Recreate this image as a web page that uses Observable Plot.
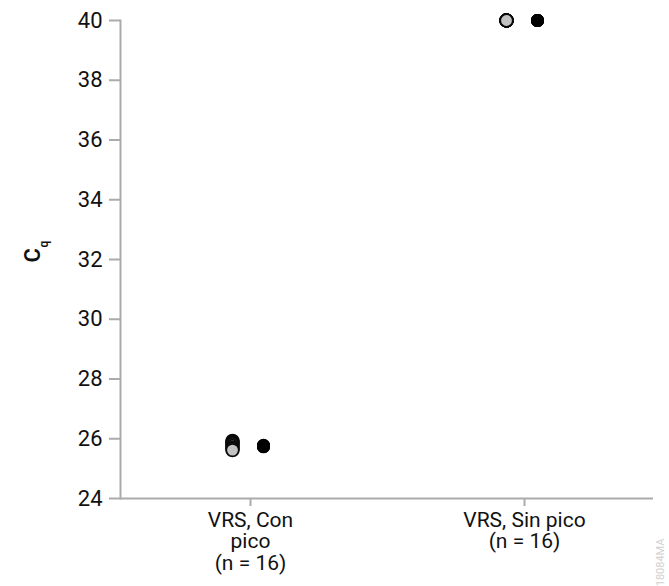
<!DOCTYPE html>
<html>
<head>
<meta charset="utf-8">
<script src="https://cdn.jsdelivr.net/npm/d3@7"></script>
<script src="https://cdn.jsdelivr.net/npm/@observablehq/plot@0.6"></script>
<style>
  html, body { margin: 0; padding: 0; background: #fff; }
  #chart svg { font-family: Roboto, "Noto Sans", sans-serif; }
</style>
</head>
<body>
<div id="chart"></div>
<script>
// Sample groups (x axis)
const categories = ["VRS, Con\npico\n(n = 16)", "VRS, Sin pico\n(n = 16)"];

// Cq values per replicate, grey series and black series
const conPicoGris  = [25.93, 25.9, 25.86, 25.82, 25.76, 25.7, 25.66, 25.62];
const conPicoNegro = [25.78, 25.77, 25.76, 25.75, 25.75, 25.74, 25.74, 25.73];
const sinPicoGris  = [40, 40, 40, 40, 40, 40, 40, 40];
const sinPicoNegro = [40, 40, 40, 40, 40, 40, 40, 40];

const yTicks = [24, 26, 28, 30, 32, 34, 36, 38, 40];

const gris = [
  ...conPicoGris.map(cq => ({grupo: categories[0], cq})),
  ...sinPicoGris.map(cq => ({grupo: categories[1], cq}))
].sort((a, b) => b.cq - a.cq);
const negro = [
  ...conPicoNegro.map(cq => ({grupo: categories[0], cq})),
  ...sinPicoNegro.map(cq => ({grupo: categories[1], cq}))
];

const axisGrey = "#ababab";

const plot = Plot.plot({
  width: 669,
  height: 586,
  marginLeft: 120,
  marginRight: 16,
  marginTop: 20,
  marginBottom: 88,
  style: {fontSize: "21px", fontFamily: "Roboto, sans-serif", color: "#111"},
  x: {type: "point", domain: categories, padding: 0.47},
  y: {domain: [24, 40]},
  marks: [
    Plot.frame({anchor: "left", stroke: axisGrey, strokeWidth: 2}),
    Plot.ruleY([24], {stroke: axisGrey, strokeWidth: 2}),
    Plot.axisY(yTicks, {tickSize: 11, tickPadding: 7, stroke: axisGrey, strokeWidth: 2, fill: "#111", label: null, fontSize: 22}),
    Plot.axisX({tickSize: 8, tickPadding: 5, stroke: axisGrey, strokeWidth: 2, fill: "#111", label: null, fontSize: 21, lineHeight: 1.03}),
    Plot.dot(gris, {x: "grupo", y: "cq", dx: -18, r: 6.3, fill: "#c2c2c2", stroke: "#0a0a0a", strokeWidth: 1.8}),
    Plot.dot(negro, {x: "grupo", y: "cq", dx: 13, r: 6.5, fill: "#000", stroke: "none"}),
    // y axis title: C with subscript q
    Plot.text(["C"], {frameAnchor: "left", dx: -88, dy: 3, rotate: -90, fontSize: 22, fontWeight: 600, fill: "#111"}),
    Plot.text(["q"], {frameAnchor: "left", dx: -76, dy: -12, rotate: -90, fontSize: 12, fontWeight: 600, fill: "#111"}),
    // figure code
    Plot.text(["18084MA"], {frameAnchor: "bottom-right", dx: 10, dy: 40, rotate: -90, fontSize: 11, fill: "#d0d0d0"})
  ]
});
document.getElementById("chart").appendChild(plot);
</script>
</body>
</html>
